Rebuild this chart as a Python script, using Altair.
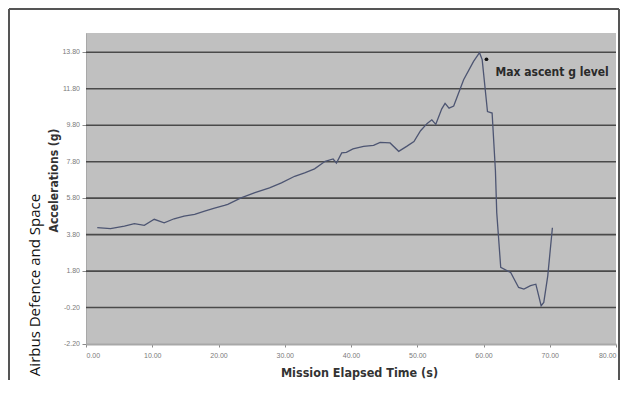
import altair as alt
import pandas as pd

# Mission elapsed time (s) and acceleration (g)
time_s = [1.7, 3.7, 5.8, 7.3, 8.8, 10.3, 11.8, 13.3, 14.8, 16.4, 17.9, 19.4, 20.9,
          21.4, 23.4, 25.5, 27.7, 29.5, 31.5, 33.0, 34.5, 36.1, 37.3, 37.8, 38.6,
          39.3, 40.3, 41.9, 43.4, 44.4, 45.9, 47.2, 48.4, 49.5, 50.5, 51.5, 52.2,
          52.8, 53.7, 54.2, 54.8, 55.5, 57.0, 58.5, 59.4, 59.8, 60.6, 61.3, 61.8,
          62.0, 62.6, 64.1, 65.3, 66.1, 67.1, 67.9, 68.7, 69.1, 69.7, 70.4]
accel_g = [4.18, 4.13, 4.27, 4.40, 4.31, 4.64, 4.45, 4.67, 4.82, 4.91, 5.09, 5.25, 5.40,
           5.46, 5.82, 6.10, 6.37, 6.64, 7.00, 7.19, 7.41, 7.82, 7.95, 7.73, 8.28,
           8.31, 8.50, 8.64, 8.70, 8.86, 8.83, 8.37, 8.64, 8.91, 9.50, 9.90, 10.10,
           9.85, 10.70, 11.00, 10.74, 10.85, 12.30, 13.30, 13.78, 13.40, 10.55, 10.47, 7.30,
           5.00, 2.00, 1.72, 0.90, 0.81, 1.00, 1.08, -0.10, 0.08, 1.54, 4.18]

y_ticks = [-2.2, -0.2, 1.8, 3.8, 5.8, 7.8, 9.8, 11.8, 13.8]
y_tick_labels = ["-2.20", "-0.20", "1.80", "3.80", "5.80", "7.80", "9.80", "11.80", "13.80"]
grid_values = [-0.2, 1.8, 3.8, 5.8, 7.8, 9.8, 11.8, 13.8]
x_ticks = [0, 10, 20, 30, 40, 50, 60, 70, 80]

annot_time = [60.45]
annot_g = [13.42]
annot_label_time = [61.8]
annot_label_g = [12.74]
annot_label = ["Max ascent g level"]

credit = "Airbus Defence and Space"

df = pd.DataFrame({"t": time_s, "g": accel_g})
grid_df = pd.DataFrame({"g": grid_values})
ylab_df = pd.DataFrame({"g": y_ticks, "label": y_tick_labels})
ann_pt = pd.DataFrame({"t": annot_time, "g": annot_g})
ann_txt = pd.DataFrame({"t": annot_label_time, "g": annot_label_g, "label": annot_label})

COND = "DejaVu Sans Condensed, Liberation Sans Narrow, Arial Narrow, sans-serif"

xscale = alt.Scale(domain=[0, 80], nice=False, zero=False)
yscale = alt.Scale(domain=[-2.2, 14.86], nice=False, zero=False)

grid = alt.Chart(grid_df).mark_rule(color="#4a4a4a", strokeWidth=1.6).encode(
    y=alt.Y("g:Q", scale=yscale,
            axis=alt.Axis(values=y_ticks, labels=False, title="Accelerations (g)",
                          grid=False, tickSize=4, tickColor="#8a8a8a",
                          domainColor="#a8a8a8", domainWidth=1,
                          titleFont=COND, titleFontSize=12, titleFontWeight="bold",
                          titleColor="#333333", titleX=-33, titleY=147,
                          titleAngle=270, titleBaseline="middle", titleAlign="center")),
)

ylabels = alt.Chart(ylab_df).mark_text(align="right", baseline="middle", fontSize=7,
                                       color="#7a7a7a", clip=False).encode(
    x=alt.value(-6), y=alt.Y("g:Q", scale=yscale), text="label:N")

line = alt.Chart(df).mark_line(color="#4d5572", strokeWidth=1.3).encode(
    x=alt.X("t:Q", scale=xscale,
            axis=alt.Axis(values=x_ticks, format=".2f", title="Mission Elapsed Time (s)",
                          grid=False, labelOverlap=False, tickSize=3, tickColor="#8a8a8a",
                          domainColor="#a8a8a8", domainWidth=2,
                          labelFontSize=7, labelColor="#7a7a7a", labelPadding=4,
                          titleFont=COND, titleFontSize=12.5, titleFontWeight="bold",
                          titleColor="#333333", titleX=273, titleY=28,
                          titleBaseline="middle", titleAlign="center")),
    y=alt.Y("g:Q", scale=yscale),
)

dot = alt.Chart(ann_pt).mark_point(filled=True, color="#111111", size=14, opacity=1).encode(
    x=alt.X("t:Q", scale=xscale), y=alt.Y("g:Q", scale=yscale))

txt = alt.Chart(ann_txt).mark_text(align="left", baseline="middle", font=COND,
                                   fontSize=12, fontWeight="bold", color="#2a2a2a").encode(
    x=alt.X("t:Q", scale=xscale), y=alt.Y("g:Q", scale=yscale), text="label:N")

credit_df = pd.DataFrame({"label": [credit]})
credit_txt = alt.Chart(credit_df).mark_text(angle=270, align="center", baseline="middle",
                                            font="Open Sans", fontSize=15, color="#111111").encode(
    x=alt.value(-51), y=alt.value(252), text="label:N")

frame_df = pd.DataFrame({"k": [1]})
frame_left = alt.Chart(frame_df).mark_rule(color="#555555", strokeWidth=2, clip=False).encode(
    x=alt.value(-77), y=alt.value(-24), y2=alt.value(360))
frame_top = alt.Chart(frame_df).mark_rule(color="#555555", strokeWidth=2, clip=False).encode(
    x=alt.value(-77), x2=alt.value(533), y=alt.value(-24))
frame_right = alt.Chart(frame_df).mark_rule(color="#555555", strokeWidth=2, clip=False).encode(
    x=alt.value(533), y=alt.value(-24), y2=alt.value(360))

chart = alt.layer(grid, ylabels, line, dot, txt, credit_txt,
                  frame_left, frame_top, frame_right).properties(
    width=530, height=311,
    autosize=alt.AutoSizeParams(type="none"),
    padding={"left": 78, "top": 25, "right": 4, "bottom": 36},
    background="white",
).configure_view(fill="#c0c0c0", stroke=None)

chart.save("out.html", embed_options={"renderer": "svg", "actions": False})
